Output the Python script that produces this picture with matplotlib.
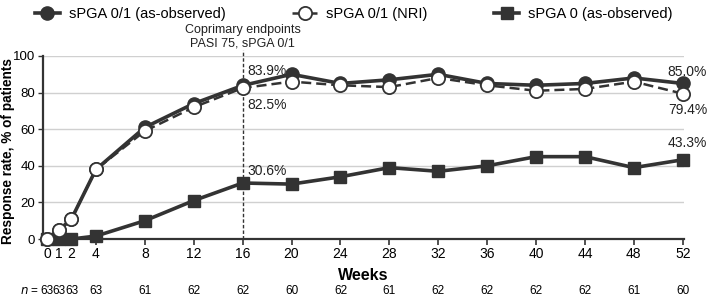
import matplotlib.pyplot as plt

weeks = [0, 1, 2, 4, 8, 12, 16, 20, 24, 28, 32, 36, 40, 44, 48, 52]
n_patients = [63, 63, 63, 63, 61, 62, 62, 60, 62, 61, 62, 62, 62, 62, 61, 60]
spga01_obs = [0, 5, 11, 38, 61, 74, 83.9, 90, 85, 87, 90, 85, 84, 85, 88, 85.0]
spga01_nri = [0, 5, 11, 38, 59, 72, 82.5, 86, 84, 83, 88, 84, 81, 82, 86, 79.4]
spga0_obs = [0, 0, 0, 1.6, 10, 21, 30.6, 30, 34, 39, 37, 40, 45, 45, 39, 43.3]

plt.rcParams['font.family'] = ['Liberation Sans', 'DejaVu Sans']
dark = '#333333'
txt = '#222222'

fig = plt.figure(figsize=(7.09, 2.99), dpi=100)
ax = fig.add_axes([43/709, 1 - 239/299, 641/709, 183/299])

ax.plot(weeks, spga0_obs, color=dark, lw=2.6, marker='s', ms=9, mfc=dark, mec=dark,
        label='sPGA 0 (as-observed)', zorder=3, clip_on=False)
ax.plot(weeks, spga01_obs, color=dark, lw=2.6, marker='o', ms=9.5, mfc=dark, mec=dark,
        label='sPGA 0/1 (as-observed)', zorder=4, clip_on=False)
ax.plot(weeks, spga01_nri, color=dark, lw=1.8, ls=(0, (4, 2)), marker='o', ms=9.5, mfc='white',
        mec=dark, mew=1.3, label='sPGA 0/1 (NRI)', zorder=5, clip_on=False)

ax.axvline(16, ymin=0, ymax=1.035, color=dark, lw=1, ls=(0, (2.5, 1.5)), clip_on=False, zorder=2)
ax.text(16, 103.5, 'Coprimary endpoints\nPASI 75, sPGA 0/1', ha='center', va='bottom', fontsize=9,
        linespacing=1.15, color=txt)

ax.text(16.4, 92, '83.9%', fontsize=10, va='center', ha='left', color=txt)
ax.text(16.4, 73, '82.5%', fontsize=10, va='center', ha='left', color=txt)
ax.text(16.4, 37, '30.6%', fontsize=10, va='center', ha='left', color=txt)
ax.text(54.0, 91.5, '85.0%', fontsize=10, va='center', ha='right', color=txt, clip_on=False)
ax.text(54.0, 70.5, '79.4%', fontsize=10, va='center', ha='right', color=txt, clip_on=False)
ax.text(54.0, 52.5, '43.3%', fontsize=10, va='center', ha='right', color=txt, clip_on=False)

ax.set_xlim(-0.33, 52.1)
ax.set_ylim(0, 100)
ax.set_xticks(weeks)
ax.set_xticklabels([str(w) for w in weeks], fontsize=10)
ax.set_yticks([0, 20, 40, 60, 80, 100])
ax.set_yticklabels(['0', '20', '40', '60', '80', '100'], fontsize=9.5)
ax.tick_params(axis='y', length=3.5, width=1, color=dark, pad=2)
ax.tick_params(axis='x', length=4, width=1.2, color=dark, pad=2)
ax.grid(axis='y', color='#d0d0d0', lw=1)
ax.set_axisbelow(True)
for s in ['top', 'right']:
    ax.spines[s].set_visible(False)
ax.spines['left'].set_color(dark)
ax.spines['left'].set_linewidth(1.6)
ax.spines['bottom'].set_color(dark)
ax.spines['bottom'].set_linewidth(1.6)
ax.set_xlabel('Weeks', fontsize=11.5, fontweight='bold', labelpad=5)
ax.set_ylabel('Response rate, % of patients', fontsize=9.8, fontweight='bold')
ax.yaxis.set_label_coords(-28/641, 0.48)

# n row
for w, n in zip(weeks, n_patients):
    ax.annotate(str(n), xy=(w, 0), xycoords=('data', 'figure fraction'), xytext=(0, 1.5),
                textcoords='offset points', ha='center', va='bottom', fontsize=8.5)
fig.text(20/709, 1.5/299, '$n$ =', ha='left', va='bottom', fontsize=8.5)

handles, labels = ax.get_legend_handles_labels()
order = [1, 2, 0]
fig.legend([handles[i] for i in order], [labels[i] for i in order], loc='upper center',
           bbox_to_anchor=(0.499, 1.02), ncol=3, frameon=False, fontsize=10.5,
           handlelength=1.7, columnspacing=4.6, handletextpad=0.6)

fig.savefig('out.png', dpi=100)
